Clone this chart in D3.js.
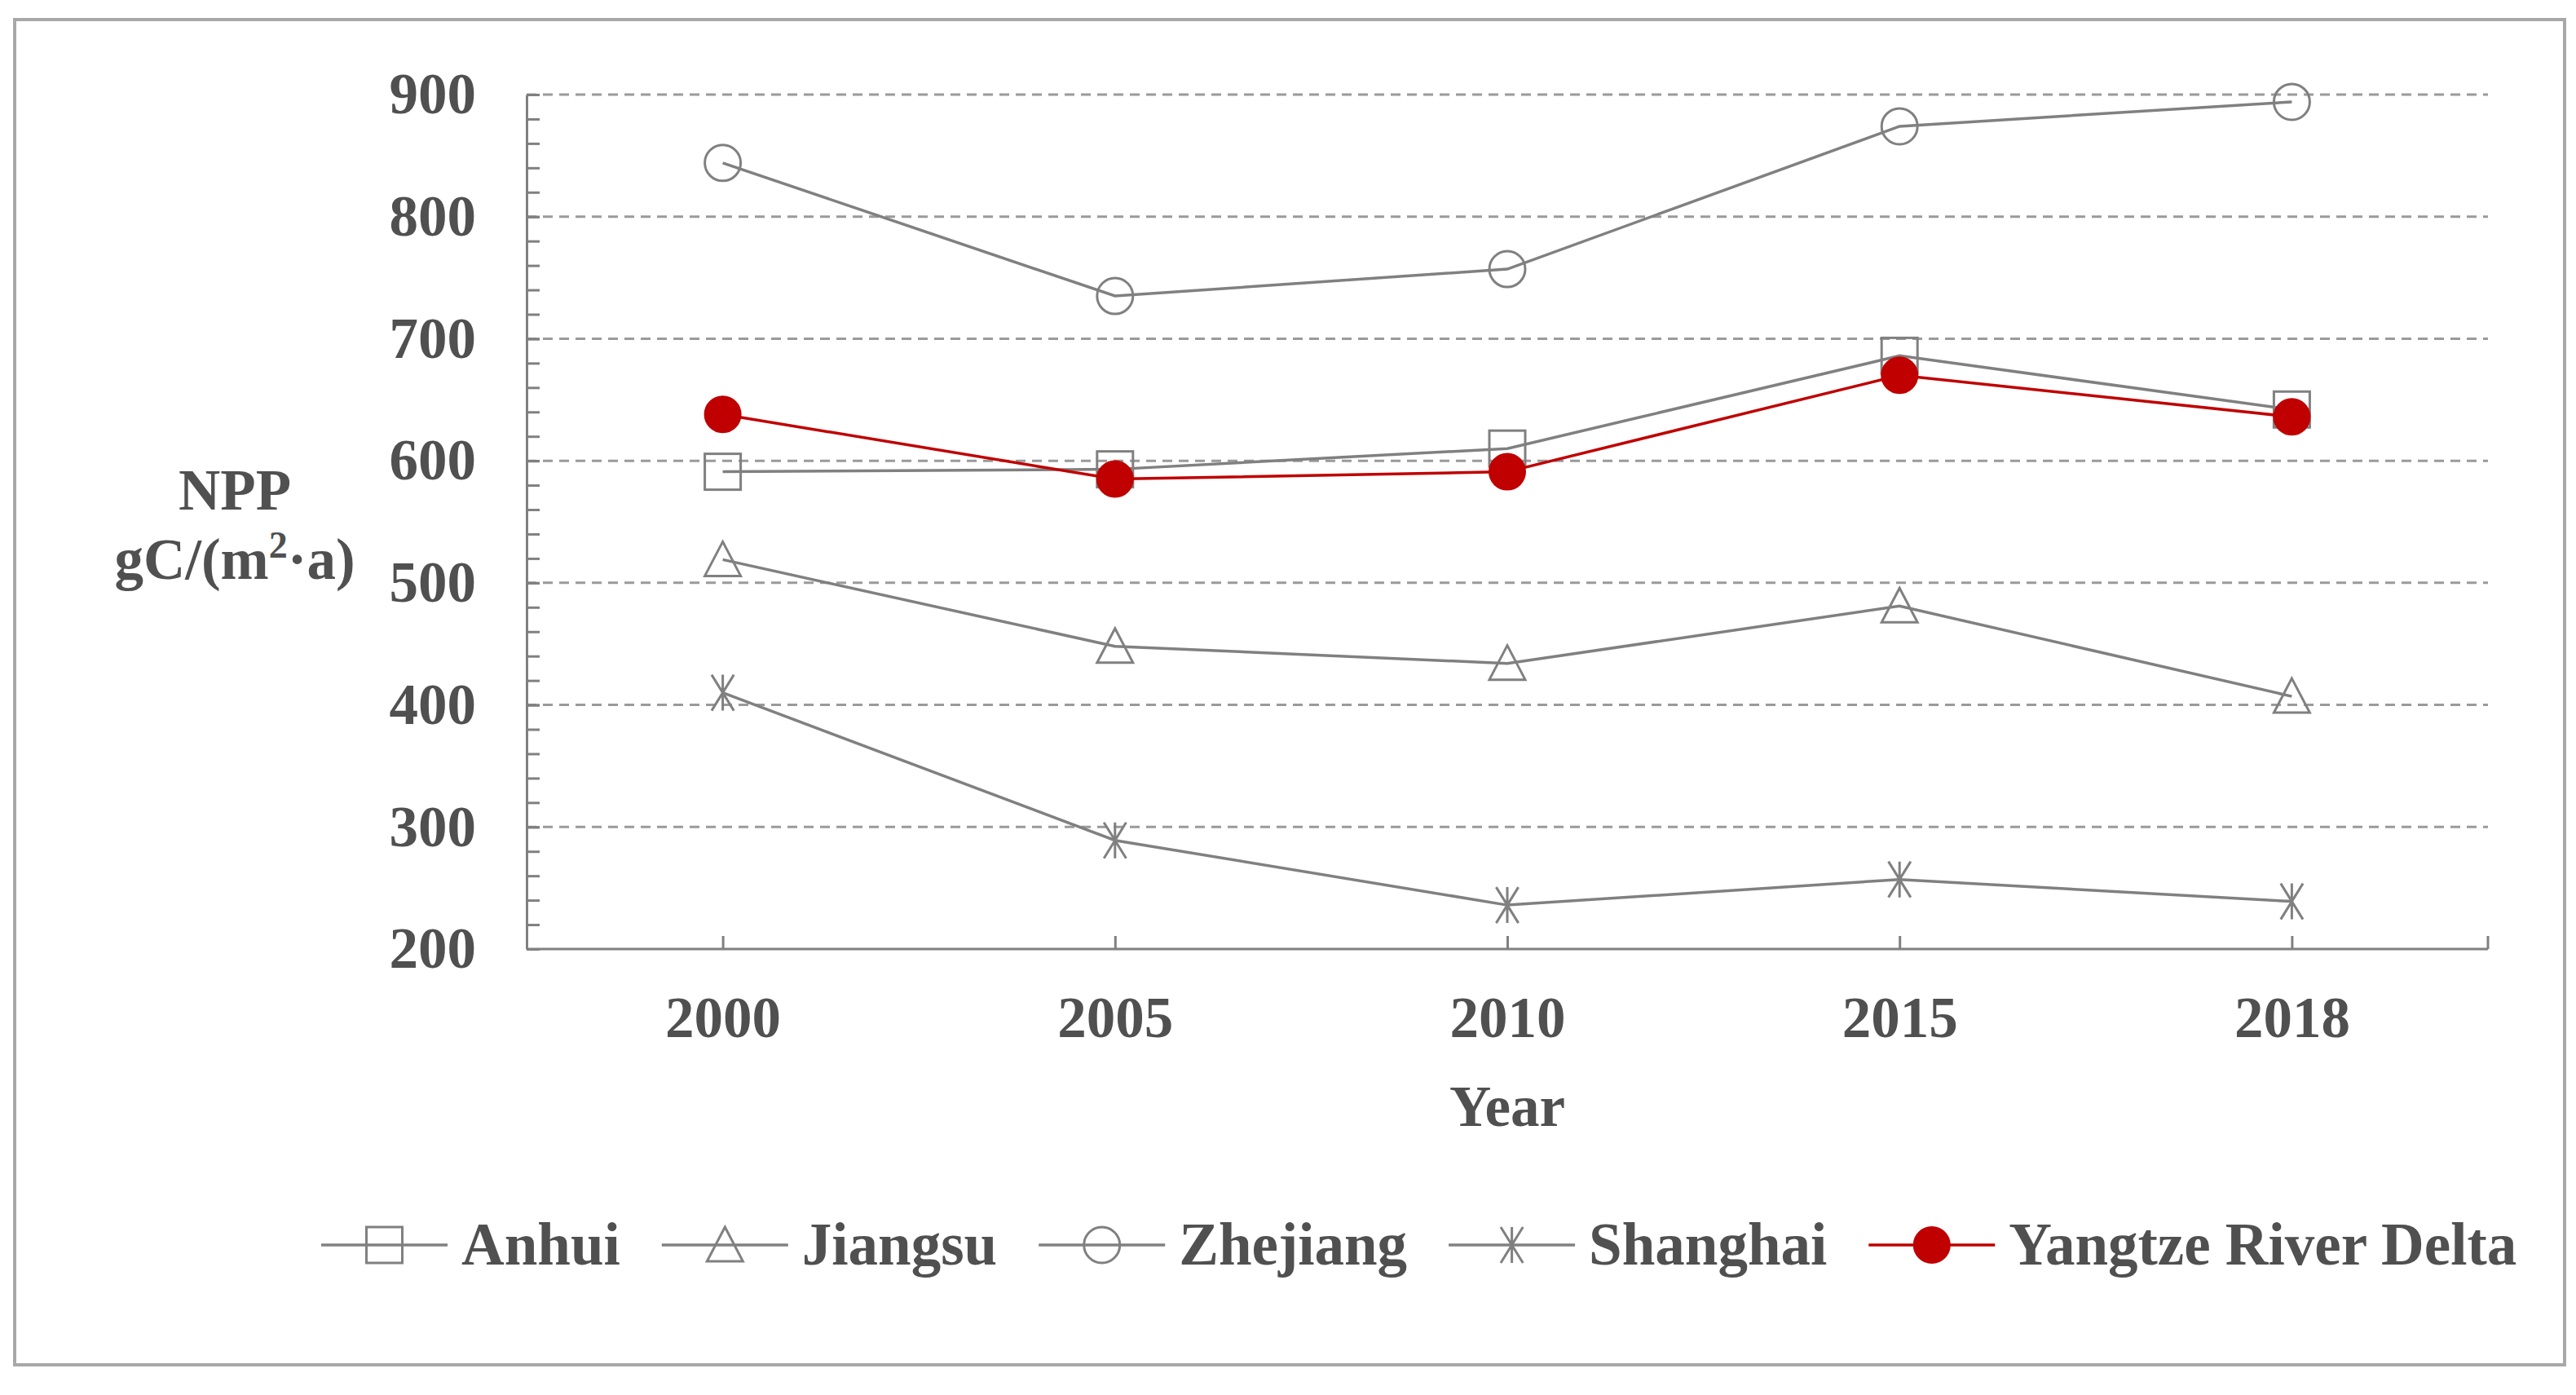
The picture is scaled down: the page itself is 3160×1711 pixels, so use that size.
<!DOCTYPE html>
<html>
<head>
<meta charset="utf-8">
<script src="https://cdn.jsdelivr.net/npm/d3@7"></script>
<style>
  body { margin: 0; background: #fff; }
  text { font-family: "Liberation Serif", "Times New Roman", serif; font-weight: bold; fill: #505050; }
</style>
</head>
<body>
<svg id="chart" width="3160" height="1711"></svg>
<script>
const years = ["2000", "2005", "2010", "2015", "2018"];
const anhui = [591, 593, 610, 686, 642];
const jiangsu = [519, 448, 434, 481, 407];
const zhejiang = [844, 735, 757, 874, 894];
const shanghai = [410, 289, 236, 257, 239];
const yrd = [638, 585, 591, 670, 636];
const yTicks = [200, 300, 400, 500, 600, 700, 800, 900];

const series = [
  { name: "Anhui", values: anhui, marker: "square", color: "#808080" },
  { name: "Jiangsu", values: jiangsu, marker: "triangle", color: "#808080" },
  { name: "Zhejiang", values: zhejiang, marker: "circle", color: "#808080" },
  { name: "Shanghai", values: shanghai, marker: "star", color: "#808080" },
  { name: "Yangtze River Delta", values: yrd, marker: "dot", color: "#c00000" },
];

const plotL = 646, plotR = 3052, plotT = 116, plotB = 1164;
const fs = 71;
const svg = d3.select("#chart");

// outer frame
svg.append("rect")
  .attr("x", 18).attr("y", 24).attr("width", 3128).attr("height", 1650)
  .attr("fill", "none").attr("stroke", "#a8a8a8").attr("stroke-width", 4);

const x = d3.scalePoint().domain(years).range([plotL, plotR]).padding(0.5);
const y = d3.scaleLinear().domain([200, 900]).range([plotB, plotT]);

// gridlines
svg.append("g")
  .selectAll("line")
  .data(yTicks.filter((t) => t > 200))
  .join("line")
  .attr("x1", plotL).attr("x2", plotR)
  .attr("y1", (d) => y(d)).attr("y2", (d) => y(d))
  .attr("stroke", "#9a9a9a").attr("stroke-width", 3)
  .attr("stroke-dasharray", "12,8");

// minor y ticks
svg.append("g")
  .attr("transform", `translate(${plotL},0)`)
  .call(d3.axisLeft(y).tickValues(d3.range(200, 901, 20)).tickSize(-16).tickFormat(""))
  .call((g) => g.select(".domain").remove())
  .call((g) => g.selectAll("line").attr("stroke", "#808080").attr("stroke-width", 3));

// y axis
svg.append("g")
  .attr("transform", `translate(${plotL},0)`)
  .call(d3.axisLeft(y).tickValues(yTicks).tickSizeInner(-16).tickSizeOuter(0).tickPadding(62))
  .call((g) => g.select(".domain").attr("stroke", "#808080").attr("stroke-width", 3))
  .call((g) => g.selectAll("line").attr("stroke", "#808080").attr("stroke-width", 3))
  .call((g) => g.selectAll("text").attr("font-size", fs).attr("fill", "#505050")
    .style("font-family", "Liberation Serif").style("font-weight", "bold"));

// x axis
svg.append("g")
  .attr("transform", `translate(0,${plotB})`)
  .call(d3.axisBottom(x).tickSizeInner(-16).tickSizeOuter(0).tickPadding(58))
  .call((g) => g.select(".domain").attr("d", `M${plotL},0H${plotR}`)
    .attr("stroke", "#808080").attr("stroke-width", 3))
  .call((g) => g.selectAll("line").attr("stroke", "#808080").attr("stroke-width", 3))
  .call((g) => g.selectAll("text").attr("font-size", fs).attr("fill", "#505050")
    .style("font-family", "Liberation Serif").style("font-weight", "bold"))
  .call((g) => g.append("line").attr("x1", plotR).attr("x2", plotR).attr("y1", 0).attr("y2", -16)
    .attr("stroke", "#808080").attr("stroke-width", 3));

// axis titles
svg.append("text").attr("x", 288).attr("y", 625).attr("text-anchor", "middle")
  .attr("font-size", fs).text("NPP");
const yt = svg.append("text").attr("x", 288).attr("y", 710).attr("text-anchor", "middle")
  .attr("font-size", fs);
yt.append("tspan").text("gC/(m");
yt.append("tspan").attr("dy", -26).attr("font-size", 46).text("2");
yt.append("tspan").attr("dy", 26).text("·a)");
svg.append("text").attr("x", (plotL + plotR) / 2).attr("y", 1381).attr("text-anchor", "middle")
  .attr("font-size", fs).text("Year");

function marker(g, type, color) {
  const r = 22;
  if (type === "circle") {
    g.append("circle").attr("r", r).attr("fill", "none").attr("stroke", color).attr("stroke-width", 3);
  } else if (type === "dot") {
    g.append("circle").attr("r", r).attr("fill", color).attr("stroke", color).attr("stroke-width", 2);
  } else if (type === "square") {
    g.append("rect").attr("x", -r).attr("y", -r).attr("width", 2 * r).attr("height", 2 * r)
      .attr("fill", "none").attr("stroke", color).attr("stroke-width", 3);
  } else if (type === "triangle") {
    g.append("path").attr("d", `M0,${-r}L${r},${r - 2}L${-r},${r - 2}Z`)
      .attr("fill", "none").attr("stroke", color).attr("stroke-width", 3);
  } else if (type === "star") {
    const d = r * 0.62;
    g.append("path").attr("d", `M0,${-r}V${r}M${-d},${-r}L${d},${r}M${d},${-r}L${-d},${r}`)
      .attr("fill", "none").attr("stroke", color).attr("stroke-width", 3);
  }
}

const line = d3.line().x((d, i) => x(years[i])).y((d) => y(d));

series.forEach((s) => {
  svg.append("path").datum(s.values)
    .attr("d", line).attr("fill", "none")
    .attr("stroke", s.color).attr("stroke-width", 3.5);
  s.values.forEach((v, i) => {
    const g = svg.append("g").attr("transform", `translate(${x(years[i])},${y(v)})`);
    marker(g, s.marker, s.color);
  });
});

// legend
const legY = 1527;
let lx = 394;
series.forEach((s) => {
  const g = svg.append("g").attr("transform", `translate(${lx},${legY})`);
  g.append("line").attr("x1", 0).attr("x2", 155).attr("stroke", s.color).attr("stroke-width", 3.5);
  const m = g.append("g").attr("transform", "translate(77.5,0)");
  marker(m, s.marker, s.color);
  const t = g.append("text").attr("x", 172).attr("y", 24).attr("font-size", 73).text(s.name);
  lx += 172 + t.node().getComputedTextLength() + 51;
});
</script>
</body>
</html>
